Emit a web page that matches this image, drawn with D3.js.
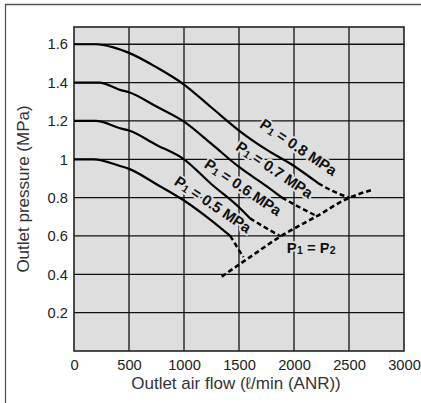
<!DOCTYPE html>
<html>
<head>
<meta charset="utf-8">
<script src="https://cdn.jsdelivr.net/npm/d3@7"></script>
<style>
  body { margin: 0; background: #fff; }
  svg { display: block; font-family: "Liberation Sans", Arial, sans-serif; }
</style>
</head>
<body>
<div id="chart"></div>
<script>
// axis ticks
const flowTicks = [0, 500, 1000, 1500, 2000, 2500, 3000];
const pressureTicks = [0.2, 0.4, 0.6, 0.8, 1, 1.2, 1.4, 1.6];

// [flow (l/min ANR), outlet pressure (MPa)]
const curve08 = [[0, 1.6], [200, 1.6], [350, 1.585], [500, 1.555], [750, 1.48], [1000, 1.39], [1250, 1.27], [1500, 1.15], [1750, 1.05], [2000, 0.965], [2220, 0.875], [2350, 0.835], [2500, 0.8]];
const curve07 = [[0, 1.4], [230, 1.4], [418, 1.362], [500, 1.35], [750, 1.275], [1000, 1.196], [1250, 1.08], [1500, 0.96], [1750, 0.86], [1890, 0.8], [2050, 0.75], [2206, 0.704]];
const curve06 = [[0, 1.2], [200, 1.2], [418, 1.162], [500, 1.15], [750, 1.075], [1000, 1.0], [1250, 0.87], [1500, 0.75], [1600, 0.692], [1750, 0.64], [1880, 0.598]];
const curve05 = [[0, 1.0], [180, 1.0], [418, 0.965], [500, 0.95], [750, 0.87], [1000, 0.785], [1250, 0.68], [1420, 0.6], [1540, 0.49]];
// flow where each curve turns dashed
const dashFrom = [2220, 1890, 1600, 1420];
const curveNames = ["0.8", "0.7", "0.6", "0.5"];
// P1 = P2 line
const p1p2 = [[1343, 0.388], [1600, 0.49], [1873, 0.596], [2206, 0.703], [2494, 0.797], [2706, 0.84]];

// label anchors [flow, pressure]
const labelAt = [[2015, 1.04], [1797, 0.923], [1509, 0.831], [1236, 0.742]];
const p1p2LabelAt = [2157, 0.513];

const width = 421, height = 403;
const margin = {top: 27, right: 17, bottom: 52, left: 74};
const w = width - margin.left - margin.right;
const h = height - margin.top - margin.bottom;
const bg = "#dedede";

const svg = d3.select("#chart").append("svg")
  .attr("width", width)
  .attr("height", height);

// outer frame (left + top edges visible)
svg.append("path")
  .attr("d", `M5.5,${height} V4.5 H${width}`)
  .attr("fill", "none")
  .attr("stroke", "#555")
  .attr("stroke-width", 1.3);

const chart = svg.append("g")
  .attr("transform", `translate(${margin.left},${margin.top})`);

const x = d3.scaleLinear().domain([0, 3000]).range([0, w]);
const y = d3.scaleLinear().domain([0, 1.69]).range([h, 0]);

chart.append("rect")
  .attr("width", w).attr("height", h)
  .attr("fill", bg);

// grid
chart.selectAll("line.vgrid")
  .data(flowTicks.slice(1, -1))
  .join("line")
  .attr("class", "vgrid")
  .attr("x1", d => x(d)).attr("x2", d => x(d))
  .attr("y1", 0).attr("y2", h)
  .attr("stroke", "#111").attr("stroke-width", 1.3);

chart.selectAll("line.hgrid")
  .data(pressureTicks)
  .join("line")
  .attr("class", "hgrid")
  .attr("x1", 0).attr("x2", w)
  .attr("y1", d => y(d)).attr("y2", d => y(d))
  .attr("stroke", "#111").attr("stroke-width", 1.3);

// axes (labels only)
const xaxis = chart.append("g")
  .attr("transform", `translate(0,${h})`)
  .call(d3.axisBottom(x).tickValues(flowTicks).tickSize(0).tickPadding(9).tickFormat(d3.format("d")));
const yaxis = chart.append("g")
  .call(d3.axisLeft(y).tickValues(pressureTicks).tickSize(0).tickPadding(6).tickFormat(d3.format("~g")));
[xaxis, yaxis].forEach(a => {
  a.select(".domain").remove();
  a.selectAll("text")
    .attr("font-family", "'Liberation Sans', Arial, sans-serif")
    .attr("font-size", 14.7)
    .attr("fill", "#222");
});

// axis titles
svg.append("text")
  .attr("x", 236).attr("y", 389)
  .attr("text-anchor", "middle")
  .attr("font-size", 17)
  .attr("fill", "#333")
  .text("Outlet air flow (ℓ/min (ANR))");

svg.append("text")
  .attr("transform", `translate(29,${margin.top + h / 2}) rotate(-90)`)
  .attr("text-anchor", "middle")
  .attr("font-size", 17)
  .attr("fill", "#333")
  .text("Outlet pressure (MPa)");

// labels first, with a halo in the plot colour so the grid breaks around them
function labelText(g) {
  return g.append("text")
    .attr("text-anchor", "middle")
    .attr("dy", "0.35em")
    .attr("font-size", 15)
    .attr("font-weight", "bold")
    .attr("fill", "#111")
    .attr("stroke", bg)
    .attr("stroke-width", 4)
    .attr("stroke-linejoin", "round")
    .attr("paint-order", "stroke");
}

function sub(t, main, s, dy) {
  t.append("tspan").attr("dy", dy).text(main);
  t.append("tspan").attr("font-size", 10.5).attr("dy", 1).text(s);
}

labelAt.forEach((d, i) => {
  const t = labelText(chart)
    .attr("transform", `translate(${x(d[0])},${y(d[1])}) rotate(34)`);
  sub(t, "P", "1", 0);
  t.append("tspan").attr("dy", -1).text(` = ${curveNames[i]} MPa`);
});

const t2 = labelText(chart)
  .attr("x", x(p1p2LabelAt[0]))
  .attr("y", y(p1p2LabelAt[1]));
sub(t2, "P", "1", 0);
sub(t2, " = P", "2", -1);

// plot border
chart.append("rect")
  .attr("width", w).attr("height", h)
  .attr("fill", "none")
  .attr("stroke", "#222").attr("stroke-width", 1.6);

// curves
const line = d3.line()
  .x(d => x(d[0]))
  .y(d => y(d[1]))
  .curve(d3.curveMonotoneX);

const curves = [curve08, curve07, curve06, curve05];
curves.forEach((c, i) => {
  chart.append("path")
    .attr("d", line(c.filter(d => d[0] <= dashFrom[i])))
    .attr("fill", "none")
    .attr("stroke", "#000")
    .attr("stroke-width", 2.2);
  chart.append("path")
    .attr("d", line(c.filter(d => d[0] >= dashFrom[i])))
    .attr("fill", "none")
    .attr("stroke", "#000")
    .attr("stroke-width", 2.4)
    .attr("stroke-dasharray", "5,3");
});

chart.append("path")
  .attr("d", line(p1p2))
  .attr("fill", "none")
  .attr("stroke", "#000")
  .attr("stroke-width", 2.6)
  .attr("stroke-dasharray", "5,3");
</script>
</body>
</html>
